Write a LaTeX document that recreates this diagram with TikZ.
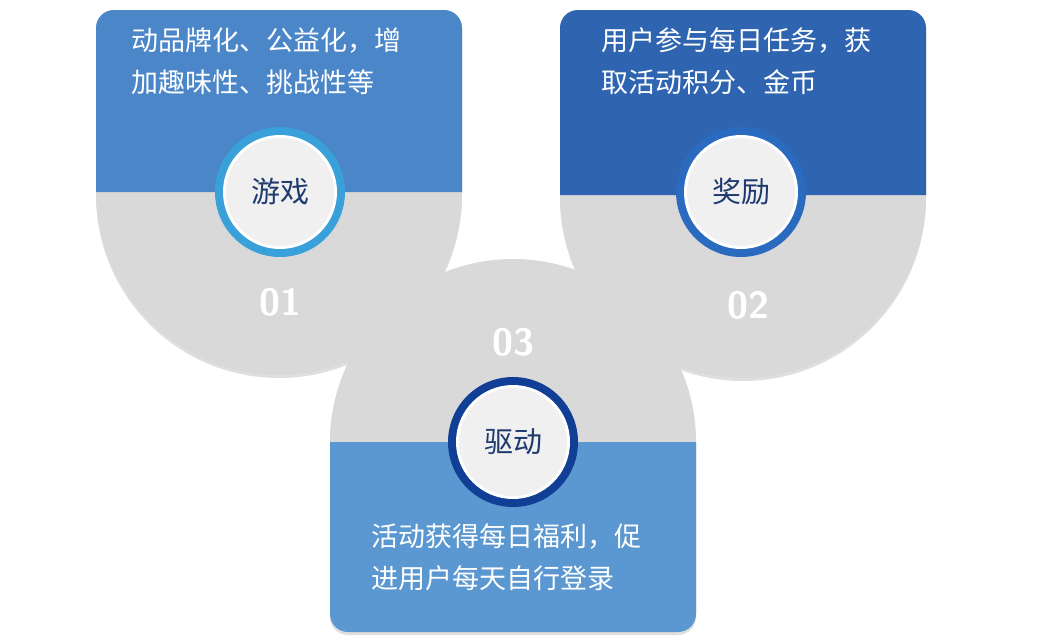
\documentclass[tikz,border=0pt]{standalone}
\usepackage{fontspec}
\newfontfamily\cjk{Noto Sans CJK SC}
\usetikzlibrary{shadows}
\definecolor{bA}{HTML}{4A86C8}
\definecolor{bB}{HTML}{2E64B0}
\definecolor{bC}{HTML}{5B97D0}
\definecolor{gr}{HTML}{D9D9D9}
\definecolor{rA}{HTML}{3AA0DA}
\definecolor{rB}{HTML}{2A6BC0}
\definecolor{rC}{HTML}{123F96}
\definecolor{navy}{HTML}{1F3A6E}
\tikzset{
 body/.style={font=\cjk\fontsize{27}{42}\selectfont, text=white, align=left, anchor=north west},
 num/.style={font=\sffamily\bfseries\fontsize{38}{38}\selectfont, text=white},
 lab/.style={font=\cjk\fontsize{29}{29}\selectfont, text=navy},
 sh/.style={drop shadow={shadow xshift=0pt,shadow yshift=-3pt,opacity=0.25}}
}
\newcommand{\badge}[4]{%
 \fill[#2] (#1) circle (65);
 \fill[white] (#1) circle (57);
 \fill[#3] (#1) circle (54);
 \node[lab] (#4) at (#1) {#4};}
\begin{document}
\begin{tikzpicture}[x=1pt,y=-1pt]
\useasboundingbox (0,0) rectangle (1062,640);
% card 1
\fill[gr,sh] (96,192) -- (96,28) arc[start angle=180,end angle=270,radius=18] -- (444,10) arc[start angle=270,end angle=360,radius=18] -- (462,192) arc[start angle=0,end angle=180,radius=183] -- cycle;
\fill[bA] (96,192) -- (96,28) arc[start angle=180,end angle=270,radius=18] -- (444,10) arc[start angle=270,end angle=360,radius=18] -- (462,192) -- cycle;
\node[body] (t1) at (128,24) {动品牌化、公益化，增\\加趣味性、挑战性等};
\node[num] (n1) at (280,302) {01};
\badge{280,192}{rA}{gray!12}{游戏}
% card 2
\fill[gr,sh] (560,195) -- (560,28) arc[start angle=180,end angle=270,radius=18] -- (908,10) arc[start angle=270,end angle=360,radius=18] -- (926,195) arc[start angle=0,end angle=180,radius=183] -- cycle;
\fill[bB] (560,195) -- (560,28) arc[start angle=180,end angle=270,radius=18] -- (908,10) arc[start angle=270,end angle=360,radius=18] -- (926,195) -- cycle;
\node[body] (t2) at (598,24) {用户参与每日任务，获\\取活动积分、金币};
\node[num] (n2) at (748,305) {02};
\badge{741,192}{rB}{gray!12}{奖励}
% card 3
\fill[gr,sh] (330,442) arc[start angle=180,end angle=360,radius=183] -- (696,614) arc[start angle=0,end angle=90,radius=18] -- (348,632) arc[start angle=90,end angle=180,radius=18] -- cycle;
\fill[bC] (330,442) -- (696,442) -- (696,614) arc[start angle=0,end angle=90,radius=18] -- (348,632) arc[start angle=90,end angle=180,radius=18] -- cycle;
\node[body] (t3) at (368,520) {活动获得每日福利，促\\进用户每天自行登录};
\node[num] (n3) at (513,342) {03};
\badge{513,442}{rC}{gray!12}{驱动}
\end{tikzpicture}
\end{document}
